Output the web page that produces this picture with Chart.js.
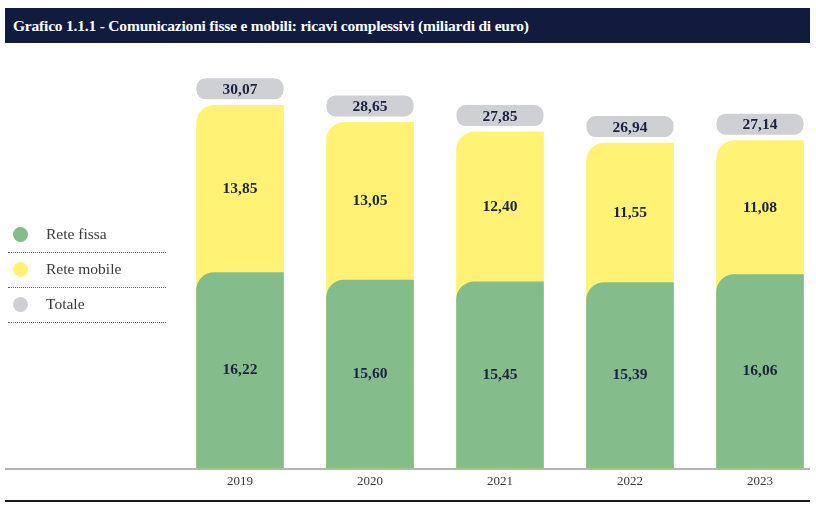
<!DOCTYPE html>
<html>
<head>
<meta charset="utf-8">
<script src="https://cdn.jsdelivr.net/npm/chart.js@4.4.1/dist/chart.umd.min.js"></script>
<style>
  body { margin: 0; background: #fff; font-family: "Liberation Serif", serif; }
  #wrap { position: relative; width: 816px; height: 509px; overflow: hidden; }
  #chartBox { position: absolute; left: 0; top: 0; width: 816px; height: 509px; }
  #title {
    position: absolute; left: 5px; top: 8px; width: 805px; height: 35px;
    background: #101b3e; color: #fff; font-weight: bold; font-size: 15.5px;
    line-height: 35px; padding-left: 8px; box-sizing: border-box; letter-spacing: -0.2px;
  }
  .leg { position: absolute; left: 8px; width: 158px; height: 35px; border-bottom: 1px dotted #666; }
  .leg span.dot { position: absolute; left: 5px; top: 10px; width: 15px; height: 15px; border-radius: 50%; }
  .leg span.txt { position: absolute; left: 38px; top: 8px; font-size: 15.5px; color: #3a3a3a; }
  #bottomLine { position: absolute; left: 5px; top: 500px; width: 805px; height: 2px; background: #1a1a1a; }
</style>
</head>
<body>
<div id="wrap">
  <div id="chartBox"><canvas id="revChart"></canvas></div>
  <div id="title">Grafico 1.1.1 - Comunicazioni fisse e mobili: ricavi complessivi (miliardi di euro)</div>
  <div class="leg" style="top:217px"><span class="dot" style="background:#84bd8b"></span><span class="txt">Rete fissa</span></div>
  <div class="leg" style="top:252px"><span class="dot" style="background:#fff275"></span><span class="txt">Rete mobile</span></div>
  <div class="leg" style="top:287px"><span class="dot" style="background:#cfd0d3"></span><span class="txt">Totale</span></div>
  <div id="bottomLine"></div>
</div>
<script>
// dati (miliardi di euro)
const anni = ['2019', '2020', '2021', '2022', '2023'];
const reteFissa = [16.22, 15.60, 15.45, 15.39, 16.06];
const reteMobile = [13.85, 13.05, 12.40, 11.55, 11.08];
const totale = [30.07, 28.65, 27.85, 26.94, 27.14];

const verde = '#84bd8b';
const giallo = '#fff275';
const grigio = '#cfd0d3';
const testo = '#1c2340';

function fmt(v) {
    return v.toFixed(2).replace('.', ',');
}

function roundRect(c, x, y, w, h, r) {
    c.beginPath();
    c.moveTo(x + r, y);
    c.lineTo(x + w - r, y);
    c.arcTo(x + w, y, x + w, y + r, r);
    c.lineTo(x + w, y + h - r);
    c.arcTo(x + w, y + h, x + w - r, y + h, r);
    c.lineTo(x + r, y + h);
    c.arcTo(x, y + h, x, y + h - r, r);
    c.lineTo(x, y + r);
    c.arcTo(x, y, x + r, y, r);
    c.closePath();
}

// etichette dei valori e riquadro del totale
const etichette = {
    id: 'etichette',
    beforeDatasetsDraw(chart) {
        const c = chart.ctx;
        const y0 = chart.scales.y.getPixelForValue(0);
        c.save();
        c.strokeStyle = '#9a9a9a';
        c.lineWidth = 1.5;
        c.beginPath();
        c.moveTo(5, y0 + 0.5);
        c.lineTo(810, y0 + 0.5);
        c.stroke();
        c.restore();
    },
    afterDatasetsDraw(chart) {
        const c = chart.ctx;
        const fissa = chart.getDatasetMeta(0).data;
        const mobile = chart.getDatasetMeta(1).data;
        c.save();
        c.font = 'bold 15.5px "Liberation Serif"';
        c.textAlign = 'center';
        c.textBaseline = 'middle';
        anni.forEach((a, i) => {
            const g = fissa[i];
            const m = mobile[i];
            c.fillStyle = testo;
            c.fillText(fmt(reteFissa[i]), g.x, (g.y + g.base) / 2);
            c.fillText(fmt(reteMobile[i]), m.x, (m.y + g.y) / 2);
            const w = m.width;
            const h = 21;
            const top = m.y - 6 - h;
            c.fillStyle = grigio;
            roundRect(c, m.x - w / 2, top, w, h, 9);
            c.fill();
            c.fillStyle = testo;
            c.fillText(fmt(totale[i]), m.x, top + h / 2 + 1);
        });
        c.restore();
    }
};

const ctx = document.getElementById('revChart').getContext('2d');
const revChart = new Chart(ctx, {
    type: 'bar',
    data: {
        labels: anni,
        datasets: [{
            label: 'Rete fissa',
            data: reteFissa,
            backgroundColor: verde,
            borderRadius: { topLeft: 18, topRight: 0, bottomLeft: 0, bottomRight: 0 },
            grouped: false,
            barThickness: 87,
            clip: false
        }, {
            label: 'Rete mobile',
            data: totale,
            backgroundColor: giallo,
            borderRadius: { topLeft: 18, topRight: 0, bottomLeft: 0, bottomRight: 0 },
            grouped: false,
            barThickness: 87,
            clip: false
        }]
    },
    options: {
        responsive: true,
        maintainAspectRatio: false,
        animation: false,
        layout: { padding: { left: 240, right: 56, top: 82, bottom: 15 } },
        plugins: {
            legend: { display: false },
            tooltip: { enabled: false }
        },
        scales: {
            x: {
                offset: false,
                grid: { display: false, drawTicks: false },
                border: { display: false },
                ticks: {
                    padding: 5,
                    color: '#3a3a3a',
                    font: { family: 'Liberation Serif', size: 13 }
                }
            },
            y: {
                display: false,
                min: 0,
                max: 32
            }
        }
    },
    plugins: [etichette]
});
</script>
</body>
</html>
